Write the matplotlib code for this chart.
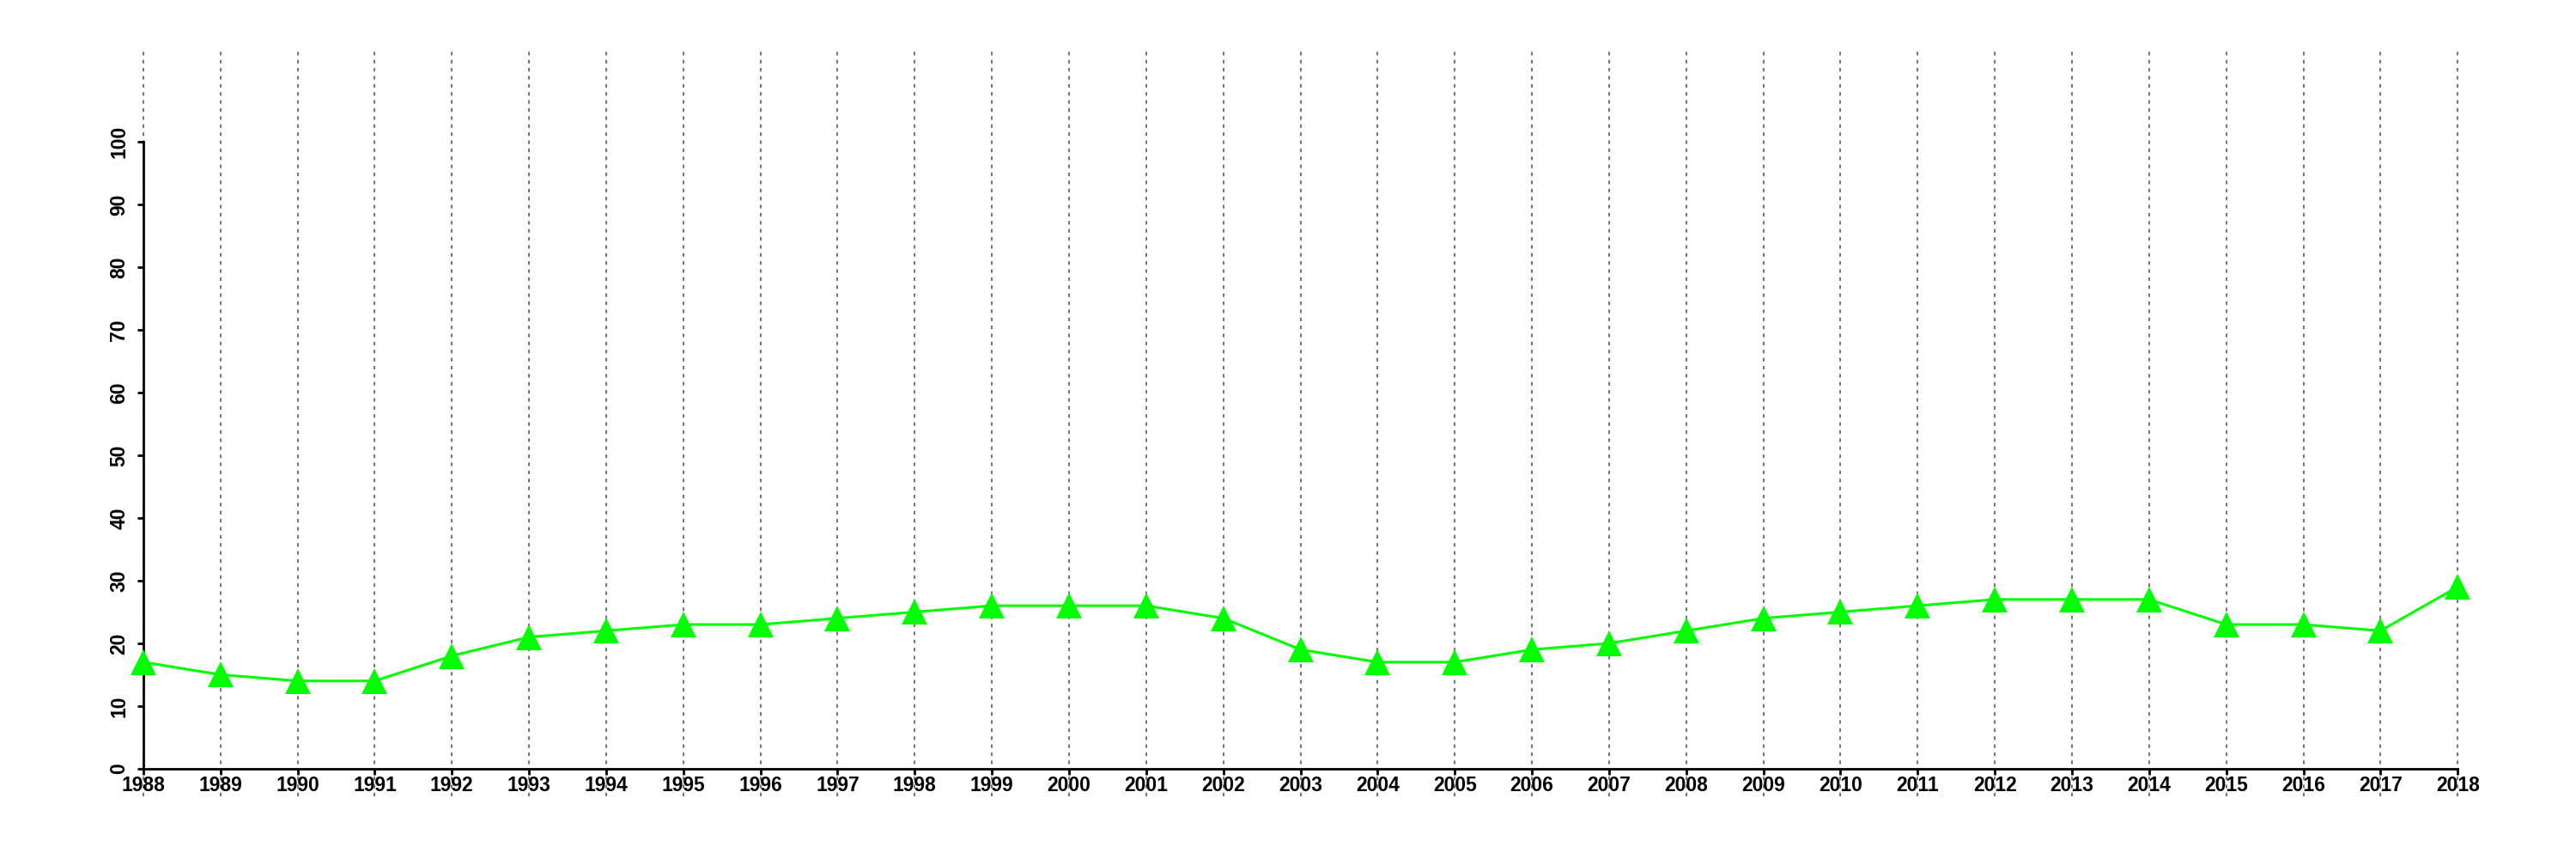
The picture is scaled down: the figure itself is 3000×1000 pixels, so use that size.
import numpy as np
import matplotlib.pyplot as plt

plt.rcParams['font.family'] = ['Liberation Sans', 'DejaVu Sans']
plt.rcParams['font.weight'] = 'bold'

years = list(range(1988, 2019))
values = [17, 15, 14, 14, 18, 21, 22, 23, 23, 24, 25, 26, 26, 26, 24, 19,
          17, 17, 19, 20, 22, 24, 25, 26, 27, 27, 27, 23, 23, 22, 29]
yticks = list(range(0, 101, 10))

fig = plt.figure(figsize=(30, 10), dpi=100)
ax = fig.add_axes([0.0197, 0.073, 0.9703, 0.867])

# spines first, set_position resets the ticks
for s in ['top', 'right']:
    ax.spines[s].set_visible(False)
ax.spines['left'].set_position(('data', 1988))
ax.spines['bottom'].set_position(('data', 0))
ax.spines['left'].set_bounds(0, 100)
ax.spines['bottom'].set_bounds(1988, 2018)
ax.spines['left'].set_linewidth(2)
ax.spines['bottom'].set_linewidth(2)

ax.plot(years, values, color='#00ff00', linewidth=2.2, marker='^',
        markersize=21, markeredgewidth=0, zorder=3)

ax.set_xlim(1986.8, 2019.2)
ax.set_ylim(-4.4, 114.4)
ax.set_xticks(years)
ax.set_yticks(yticks)

ax.grid(axis='x', color='#777777', linestyle=(0, (2, 2.5)), linewidth=1.5)
ax.set_axisbelow(True)

ax.tick_params(axis='x', length=5, width=2, pad=1, labelsize=16.5)
ax.tick_params(axis='y', length=5, width=2, pad=7, labelsize=16.5,
               labelrotation=90)
for lab in ax.get_yticklabels():
    lab.set_va('center')

fig.savefig('out.png', dpi=100)
